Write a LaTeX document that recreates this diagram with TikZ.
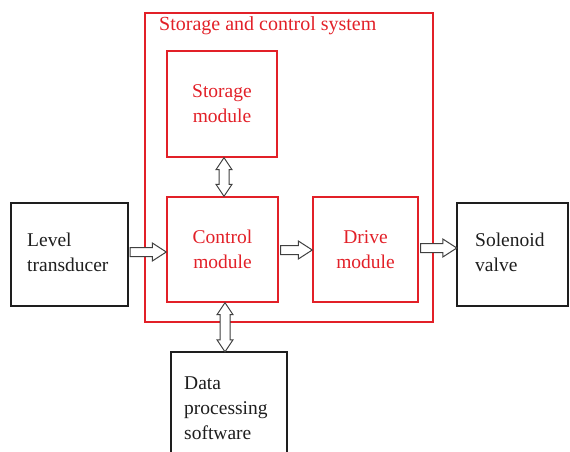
\documentclass[tikz,border=0pt]{standalone}
\usepackage{fontspec}
\setmainfont{Liberation Serif}
\usetikzlibrary{calc}
\definecolor{myred}{RGB}{226,32,40}
\definecolor{myblack}{RGB}{30,30,30}
\tikzset{
  redbox/.style={draw=myred, line width=1.4pt, text=myred, align=center, inner sep=0pt},
  blockarrow/.style={draw=myblack!85, line width=1pt, fill=white, line join=miter},
  txt/.style={font=\fontsize{19.5}{25}\selectfont}
}
\begin{document}
\begin{tikzpicture}[x=1pt,y=-1pt]
\useasboundingbox (0,0) rectangle (570,452);
% outer system box
\draw[myred, line width=1.4pt] (145,13) rectangle (433,322);
\node[anchor=west, text=myred, font=\fontsize{20}{24}\selectfont, inner sep=0pt] (title) at (159,25.5) {Storage and control system};
% modules
\node[redbox, minimum width=110pt, minimum height=106pt, txt] (storage) at (222,104) {Storage\\module};
\node[redbox, minimum width=111pt, minimum height=105pt, txt] (control) at (222.5,249.5) {Control\\module};
\node[redbox, minimum width=105pt, minimum height=105pt, txt] (drive) at (365.5,249.5) {Drive\\module};
% outer boxes
\draw[myblack, line width=1.3pt] (11,203) rectangle (128,306);
\node[anchor=center, minimum width=117pt, minimum height=103pt] (level) at (69.5,254.5) {};
\node[anchor=west, txt, align=left, text=myblack, inner sep=0pt] (leveltxt) at (27,252) {Level\\transducer};
\draw[myblack, line width=1.3pt] (457,203) -- (568,203) -- (568,306) -- (457,306) -- cycle;
\node[minimum width=111pt, minimum height=103pt] (sol) at (512.5,254.5) {};
\node[anchor=west, txt, align=left, text=myblack, inner sep=0pt] (soltxt) at (475,252) {Solenoid\\valve};
\draw[myblack, line width=1.3pt] (171,470) -- (171,352) -- (287,352) -- (287,470);
\node[minimum width=116pt, minimum height=118pt] (data) at (229,411) {};
\node[anchor=west, txt, align=left, text=myblack, inner sep=0pt] (datatxt) at (184,408) {Data\\processing\\software};
% horizontal block arrows
\coordinate (a1s) at (level.east |- 0,252);
\coordinate (a1e) at (control.west |- 0,252);
\coordinate (a2s) at (control.east |- 0,250);
\coordinate (a2e) at (drive.west |- 0,250);
\coordinate (a3s) at (drive.east |- 0,248);
\coordinate (a3e) at (sol.west |- 0,248);
\foreach \s/\e in {a1s/a1e,a2s/a2e,a3s/a3e}{
  \draw[blockarrow] let \p1=(\s), \p2=(\e) in
    (\x1+2,\y1-4.5) -- (\x2-14,\y1-4.5) -- (\x2-14,\y1-9) -- (\x2,\y1) --
    (\x2-14,\y1+9) -- (\x2-14,\y1+4.5) -- (\x1+2,\y1+4.5) -- cycle;
}
% vertical double arrows
\coordinate (v1s) at (224,0 |- storage.south);
\coordinate (v1e) at (224,0 |- control.north);
\coordinate (v2s) at (225,0 |- control.south);
\coordinate (v2e) at (225,0 |- data.north);
\foreach \s/\e in {v1s/v1e,v2s/v2e}{
  \draw[blockarrow] let \p1=(\s), \p2=(\e) in
    (\x1,\y1) -- (\x1+8,\y1-12) -- (\x1+5,\y1-12) -- (\x1+5,\y2+12) -- (\x1+8,\y2+12) --
    (\x1,\y2) -- (\x1-8,\y2+12) -- (\x1-5,\y2+12) -- (\x1-5,\y1-12) -- (\x1-8,\y1-12) -- cycle;
}
\end{tikzpicture}
\end{document}
